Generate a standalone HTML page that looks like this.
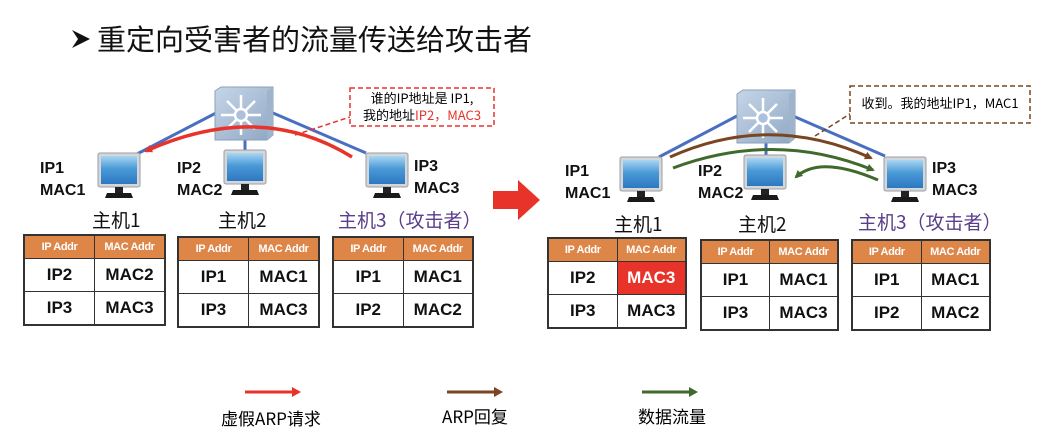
<!DOCTYPE html>
<html><head><meta charset="utf-8"><style>
body{margin:0;width:1061px;height:433px;background:#fff;position:relative;overflow:hidden;font-family:"Liberation Sans","Noto Sans CJK SC",sans-serif}
.a{position:absolute;white-space:nowrap}
.lbl{font-weight:bold;font-size:16px;line-height:22px;color:#111}
.host{font-size:19px;color:#111;font-family:"Noto Sans CJK SC",sans-serif}
table{position:absolute;border-collapse:collapse;border:2px solid #333}
td{border:1.5px solid #333;text-align:center;font-weight:bold;font-size:17px;color:#111;padding:0}
tr.h td{background:#de8548;color:#fff;font-size:11px;height:22px;letter-spacing:-0.4px}
tr.r td{height:32px}
</style></head><body>
<svg width="1061" height="433" style="position:absolute;left:0;top:0">
<defs>
<linearGradient id="scr" x1="0" y1="0" x2="0" y2="1"><stop offset="0" stop-color="#a9d6f2"/><stop offset="0.45" stop-color="#4a9ad8"/><stop offset="1" stop-color="#2d78c0"/></linearGradient>
<linearGradient id="sw" x1="0" y1="0" x2="1" y2="1"><stop offset="0" stop-color="#c6d6e8"/><stop offset="1" stop-color="#8fa7c4"/></linearGradient>
<g id="mon">
<rect x="0" y="0" width="42" height="34" rx="2" fill="#d4d7da" stroke="#9a9ea3"/>
<rect x="3" y="3" width="36" height="28" fill="url(#scr)"/>
<rect x="17" y="34" width="8" height="6" fill="#222"/>
<path d="M9 40 H33 L35 45 H7 Z" fill="#1a1a1a"/>
</g>
<g id="sw1">
<path d="M0 4 L6 0 H58 V48 L52 53 H0 Z" fill="url(#sw)" stroke="#8aa0ba"/>
<path d="M52 4 L58 0 V48 L52 53 Z" fill="#9fb3cb"/>
<g stroke="#fff" stroke-width="2.5" fill="#fff">
<line x1="26" y1="28" x2="26" y2="8"/><line x1="26" y1="28" x2="26" y2="48"/>
<line x1="26" y1="28" x2="6" y2="28"/><line x1="26" y1="28" x2="46" y2="28"/>
<line x1="26" y1="28" x2="12" y2="14"/><line x1="26" y1="28" x2="40" y2="14"/>
<line x1="26" y1="28" x2="12" y2="42"/><line x1="26" y1="28" x2="40" y2="42"/>
<circle cx="26" cy="28" r="6" fill="#aac0dc" stroke="#fff"/>
</g>
</g>
<marker id="mr" markerWidth="8" markerHeight="8" refX="6" refY="4" orient="auto" markerUnits="userSpaceOnUse"><path d="M0 0 L8 4 L0 8 Z" fill="#e8332a"/></marker>
<marker id="mb" markerWidth="8" markerHeight="8" refX="6" refY="4" orient="auto" markerUnits="userSpaceOnUse"><path d="M0 0 L8 4 L0 8 Z" fill="#7a4520"/></marker>
<marker id="mg" markerWidth="8" markerHeight="8" refX="6" refY="4" orient="auto" markerUnits="userSpaceOnUse"><path d="M0 0 L8 4 L0 8 Z" fill="#3f6a2c"/></marker>
</defs>
<path d="M72 30 L90 39 L72 48 L78 39 Z" fill="#111"/>
<g stroke="#4a6fc0" stroke-width="3">
<line x1="216" y1="113" x2="137" y2="154"/><line x1="245" y1="140" x2="245" y2="151"/><line x1="273" y1="113" x2="366" y2="153"/>
</g>
<use href="#sw1" x="215" y="87"/>
<use href="#mon" x="98" y="153"/><use href="#mon" x="224" y="150"/><use href="#mon" x="366" y="153"/>
<path d="M352 157 Q260 100 146 151" stroke="#e8332a" stroke-width="3.5" fill="none" marker-end="url(#mr)"/>
<line x1="295" y1="135" x2="350" y2="117" stroke="#e8332a" stroke-width="1.5" stroke-dasharray="5,3"/>
<rect x="350" y="88" width="144" height="38" fill="#fff" stroke="#e8332a" stroke-width="1.5" stroke-dasharray="5,3"/>
<path d="M493 191 H518 V180 L540 200 L518 220 V209 H493 Z" fill="#e8332a"/>
<g stroke="#4a6fc0" stroke-width="3">
<line x1="737" y1="116" x2="659" y2="157"/><line x1="766" y1="142" x2="766" y2="155"/><line x1="793" y1="116" x2="885" y2="156"/>
</g>
<use href="#sw1" x="737" y="90"/>
<use href="#mon" x="620" y="157"/><use href="#mon" x="744" y="155"/><use href="#mon" x="884" y="157"/>
<path d="M670 157 Q770 112 871 158" stroke="#7a4520" stroke-width="3" fill="none" marker-end="url(#mb)"/>
<path d="M673 168 Q775 130 873 170" stroke="#3f6a2c" stroke-width="3" fill="none" marker-end="url(#mg)"/>
<path d="M878 180 Q820 155 796 177" stroke="#3f6a2c" stroke-width="3" fill="none" marker-end="url(#mg)"/>
<line x1="815" y1="136" x2="853" y2="112" stroke="#7a4520" stroke-width="1.5" stroke-dasharray="5,3"/>
<rect x="850" y="86" width="180" height="37" fill="#fff" stroke="#7a4520" stroke-width="1.5" stroke-dasharray="5,3"/>
<line x1="245" y1="392" x2="293" y2="392" stroke="#e8332a" stroke-width="3"/><path d="M292 387 L301 392 L292 397Z" fill="#e8332a"/>
<line x1="447" y1="392" x2="495" y2="392" stroke="#7a4520" stroke-width="3"/><path d="M494 387 L503 392 L494 397Z" fill="#7a4520"/>
<line x1="642" y1="392" x2="690" y2="392" stroke="#3f6a2c" stroke-width="3"/><path d="M689 387 L698 392 L689 397Z" fill="#3f6a2c"/>
</svg>
<div class="a" style="left:97px;top:18px;font-size:29px;color:#111;font-family:'Noto Sans CJK SC',sans-serif;line-height:40px">重定向受害者的流量传送给攻击者</div>

<div class="a" style="left:350px;top:89px;width:144px;text-align:center;font-size:13px;line-height:17px;font-family:'Noto Sans CJK SC',sans-serif">谁的IP地址是 IP1,<br>我的地址<span style="color:#e8332a">IP2，MAC3</span></div>
<div class="a" style="left:850px;top:94px;width:180px;text-align:center;font-size:13px;line-height:18px;font-family:'Noto Sans CJK SC',sans-serif">收到。我的地址IP1，MAC1</div>

<div class="a lbl" style="left:40px;top:158px">IP1<br>MAC1</div>
<div class="a lbl" style="left:177px;top:158px">IP2<br>MAC2</div>
<div class="a lbl" style="left:414px;top:156px">IP3<br>MAC3</div>
<div class="a host" style="left:92px;top:206px">主机1</div>
<div class="a host" style="left:218px;top:206px">主机2</div>
<div class="a host" style="left:338px;top:206px;color:#5b3d8a">主机3（攻击者）</div>

<div class="a lbl" style="left:565px;top:161px">IP1<br>MAC1</div>
<div class="a lbl" style="left:698px;top:161px">IP2<br>MAC2</div>
<div class="a lbl" style="left:932px;top:158px">IP3<br>MAC3</div>
<div class="a host" style="left:614px;top:210px">主机1</div>
<div class="a host" style="left:738px;top:210px">主机2</div>
<div class="a host" style="left:858px;top:208px;color:#5b3d8a">主机3（攻击者）</div>

<table style="left:23px;top:234px;width:143px"><tr class="h"><td style="width:50%">IP Addr</td><td>MAC Addr</td></tr><tr class="r"><td>IP2</td><td>MAC2</td></tr><tr class="r"><td>IP3</td><td>MAC3</td></tr></table>
<table style="left:177px;top:236px;width:143px"><tr class="h"><td style="width:50%">IP Addr</td><td>MAC Addr</td></tr><tr class="r"><td>IP1</td><td>MAC1</td></tr><tr class="r"><td>IP3</td><td>MAC3</td></tr></table>
<table style="left:332px;top:236px;width:142px"><tr class="h"><td style="width:50%">IP Addr</td><td>MAC Addr</td></tr><tr class="r"><td>IP1</td><td>MAC1</td></tr><tr class="r"><td>IP2</td><td>MAC2</td></tr></table>

<table style="left:547px;top:237px;width:140px"><tr class="h"><td style="width:50%">IP Addr</td><td>MAC Addr</td></tr><tr class="r"><td>IP2</td><td style="background:#e8332a;color:#fff">MAC3</td></tr><tr class="r"><td>IP3</td><td>MAC3</td></tr></table>
<table style="left:700px;top:239px;width:139px"><tr class="h"><td style="width:50%">IP Addr</td><td>MAC Addr</td></tr><tr class="r"><td>IP1</td><td>MAC1</td></tr><tr class="r"><td>IP3</td><td>MAC3</td></tr></table>
<table style="left:851px;top:239px;width:140px"><tr class="h"><td style="width:50%">IP Addr</td><td>MAC Addr</td></tr><tr class="r"><td>IP1</td><td>MAC1</td></tr><tr class="r"><td>IP2</td><td>MAC2</td></tr></table>

<div class="a" style="left:221px;top:405px;font-size:17px;font-family:'Noto Sans CJK SC',sans-serif">虚假ARP请求</div>
<div class="a" style="left:442px;top:403px;font-size:17px;font-family:'Noto Sans CJK SC',sans-serif">ARP回复</div>
<div class="a" style="left:638px;top:403px;font-size:17px;font-family:'Noto Sans CJK SC',sans-serif">数据流量</div>
</body></html>
